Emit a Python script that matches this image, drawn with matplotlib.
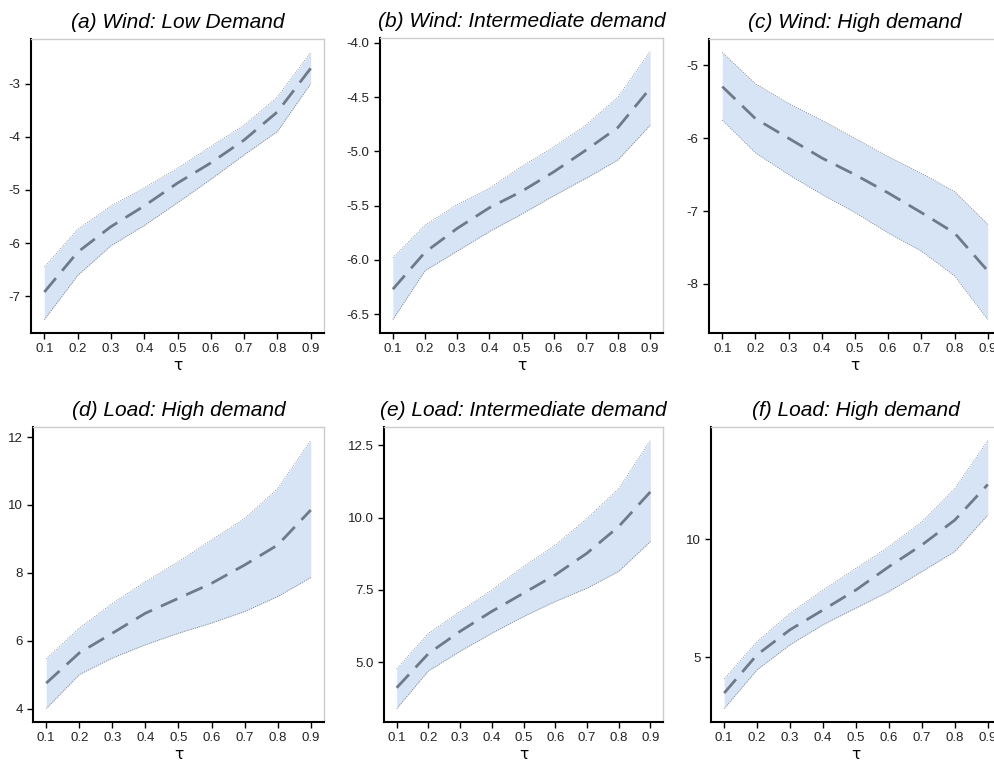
import numpy as np
import matplotlib
matplotlib.use('Agg')
import matplotlib.pyplot as plt

# quantile levels
tau = [0.1, 0.2, 0.3, 0.4, 0.5, 0.6, 0.7, 0.8, 0.9]

titles = ['(a) Wind: Low Demand', '(b) Wind: Intermediate demand',
          '(c) Wind: High demand', '(d) Load: High demand',
          '(e) Load: Intermediate demand', '(f) Load: High demand']

# estimates with lower / upper bounds
wind_low = [-6.92, -6.17, -5.69, -5.30, -4.87, -4.49, -4.06, -3.53, -2.71]
wind_low_lo = [-7.44, -6.61, -6.05, -5.67, -5.24, -4.80, -4.34, -3.90, -3.00]
wind_low_hi = [-6.45, -5.74, -5.30, -4.96, -4.59, -4.18, -3.78, -3.25, -2.41]

wind_mid = [-6.27, -5.93, -5.71, -5.52, -5.37, -5.19, -4.99, -4.78, -4.42]
wind_mid_lo = [-6.55, -6.10, -5.92, -5.74, -5.58, -5.41, -5.25, -5.08, -4.76]
wind_mid_hi = [-5.98, -5.68, -5.49, -5.34, -5.14, -4.96, -4.76, -4.50, -4.08]

wind_high = [-5.29, -5.73, -6.00, -6.27, -6.50, -6.75, -7.02, -7.30, -7.82]
wind_high_lo = [-5.75, -6.20, -6.50, -6.77, -7.02, -7.30, -7.55, -7.89, -8.49]
wind_high_hi = [-4.82, -5.25, -5.52, -5.75, -6.00, -6.25, -6.48, -6.73, -7.18]

load_d = [4.75, 5.64, 6.22, 6.81, 7.25, 7.69, 8.23, 8.82, 9.85]
load_d_lo = [4.00, 5.00, 5.49, 5.88, 6.22, 6.52, 6.86, 7.30, 7.86]
load_d_hi = [5.47, 6.37, 7.10, 7.74, 8.33, 8.97, 9.60, 10.48, 11.90]

load_mid = [4.12, 5.30, 6.07, 6.76, 7.39, 8.02, 8.77, 9.69, 10.89]
load_mid_lo = [3.40, 4.70, 5.38, 6.00, 6.58, 7.10, 7.56, 8.14, 9.17]
load_mid_hi = [4.77, 6.00, 6.76, 7.50, 8.31, 9.05, 9.97, 11.00, 12.67]

load_high = [3.47, 5.10, 6.16, 7.00, 7.85, 8.84, 9.76, 10.82, 12.33]
load_high_lo = [2.81, 4.46, 5.52, 6.37, 7.08, 7.78, 8.63, 9.48, 11.03]
load_high_hi = [4.07, 5.66, 6.86, 7.85, 8.77, 9.69, 10.75, 12.16, 14.20]

series = [(wind_low, wind_low_lo, wind_low_hi),
          (wind_mid, wind_mid_lo, wind_mid_hi),
          (wind_high, wind_high_lo, wind_high_hi),
          (load_d, load_d_lo, load_d_hi),
          (load_mid, load_mid_lo, load_mid_hi),
          (load_high, load_high_lo, load_high_hi)]

yticks = [[-7, -6, -5, -4, -3],
          [-6.5, -6.0, -5.5, -5.0, -4.5, -4.0],
          [-8, -7, -6, -5],
          [4, 6, 8, 10, 12],
          [5.0, 7.5, 10.0, 12.5],
          [5, 10]]
yfmt = ['{:.0f}', '{:.1f}', '{:.0f}', '{:.0f}', '{:.1f}', '{:.0f}']

# axes boxes in pixels: left, top, right, bottom (c and f run past the edge)
W, H = 995, 765
boxes = [(31, 39, 324, 333), (380, 38, 663, 333), (709, 39, 1001, 333),
         (33, 427, 324, 722), (384, 427, 663, 722), (711, 427, 1001, 722)]

fig = plt.figure(figsize=(W / 100, H / 100), dpi=100)
plt.rcParams['font.family'] = ['Liberation Sans', 'DejaVu Sans']

for i, (mid, lo, hi) in enumerate(series):
    l, t, r, b = boxes[i]
    ax = fig.add_axes([l / W, 1 - b / H, (r - l) / W, (b - t) / H])
    ax.fill_between(tau, lo, hi, color='#d6e4f5', lw=0)
    ax.plot(tau, lo, ls=':', lw=0.6, color='black', alpha=0.5)
    ax.plot(tau, hi, ls=':', lw=0.6, color='black', alpha=0.5)
    ax.plot(tau, mid, ls=(0, (6.5, 3.5)), lw=2.0, color='#6f7a88')

    ymin, ymax = min(lo), max(hi)
    pad = 0.05 * (ymax - ymin)
    ax.set_ylim(ymin - pad, ymax + pad)
    ax.set_xlim(0.06, 0.94)
    ax.set_xticks(tau)
    ax.set_xticklabels(['{:.1f}'.format(x) for x in tau])
    ax.set_yticks(yticks[i])
    ax.set_yticklabels([yfmt[i].format(y) for y in yticks[i]])
    ax.tick_params(labelsize=9.5, colors='black', labelcolor='#222222',
                   length=4, width=1)

    for s in ['left', 'bottom']:
        ax.spines[s].set_color('black')
        ax.spines[s].set_linewidth(1.5)
    for s in ['top', 'right']:
        ax.spines[s].set_color('#cccccc')
        ax.spines[s].set_linewidth(1.0)

    ax.set_xlabel('τ', fontsize=11, labelpad=2, family='DejaVu Sans')
    ax.set_title(titles[i], fontsize=15, style='italic', pad=8)

fig.savefig('out.png', dpi=100)
